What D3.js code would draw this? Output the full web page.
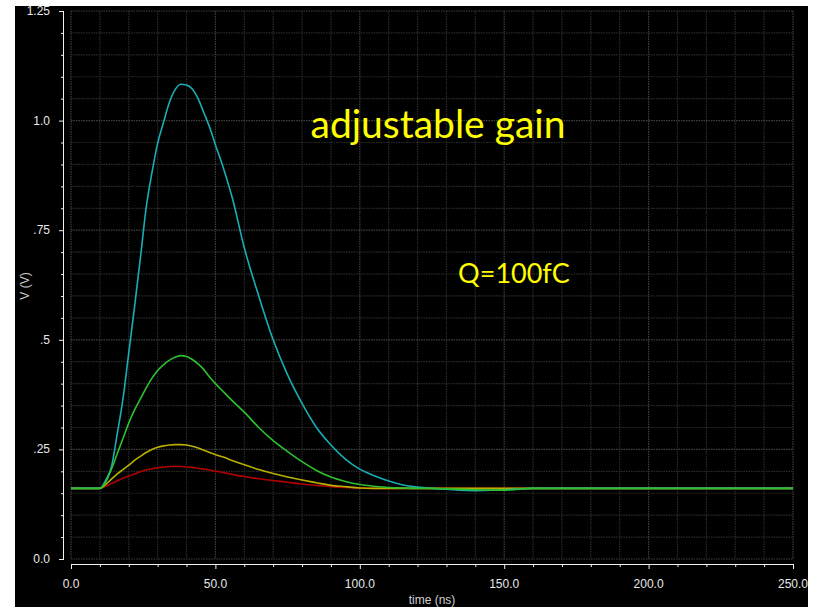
<!DOCTYPE html>
<html>
<head>
<meta charset="utf-8">
<script src="https://cdn.jsdelivr.net/npm/d3@7"></script>
<style>
  body { margin: 0; background: #fff; }
  svg { display: block; }
</style>
</head>
<body>
<svg id="chart" width="821" height="607"></svg>
<script>
// sample times (ns) shared by all traces
const times = [0, 10, 12, 14, 16, 18, 20, 22, 24, 26, 28, 30, 32, 34, 36, 38, 40, 42, 44, 46, 48, 50,
               53, 56, 60, 65, 70, 75, 80, 85, 90, 95, 100, 105, 110, 115, 120, 125, 130, 140, 150, 160, 250];

// output voltage (V) for each gain setting
const vRed    = [.161, .161, .166, .172, .178, .184, .189, .194, .199, .203, .206, .208, .210, .211, .211, .211, .210, .209, .207, .205, .203, .200,
                 .197, .193, .188, .183, .179, .175, .171, .168, .165, .163, .162, .161, .161, .161, .161, .161, .161, .161, .161, .161, .161];
const vYellow = [.161, .161, .170, .182, .194, .204, .214, .225, .234, .243, .250, .255, .258, .260, .261, .261, .260, .257, .253, .248, .243, .238,
                 .232, .224, .215, .204, .195, .187, .180, .174, .168, .165, .162, .161, .161, .161, .161, .161, .161, .161, .161, .161, .161];
const vCyan   = [.161, .161, .180, .210, .285, .365, .470, .575, .685, .800, .880, .948, .995, 1.040, 1.070, 1.083, 1.081, 1.072, 1.050, 1.018, .985, .945,
                 .887, .820, .710, .600, .500, .420, .355, .300, .260, .228, .205, .190, .178, .169, .164, .161, .159, .156, .158, .161, .161];
const vGreen  = [.161, .161, .175, .205, .240, .275, .310, .340, .365, .390, .412, .430, .443, .453, .460, .464, .462, .455, .445, .432, .415, .400,
                 .380, .360, .335, .300, .270, .245, .222, .202, .187, .177, .170, .166, .163, .162, .161, .161, .160, .158, .157, .161, .161];

const traces = [
  {name: "red",    values: vRed,    color: "#b00000"},
  {name: "yellow", values: vYellow, color: "#b8b000"},
  {name: "cyan",   values: vCyan,   color: "#19adb5"},
  {name: "green",  values: vGreen,  color: "#2ec12e"}
];

const xTicks = [0, 50, 100, 150, 200, 250];
const xTickLabels = ["0.0", "50.0", "100.0", "150.0", "200.0", "250.0"];
const yTicks = [0, 0.25, 0.5, 0.75, 1.0, 1.25];
const yTickLabels = ["0.0", ".25", ".5", ".75", "1.0", "1.25"];

const svg = d3.select("#chart");

// black panel
svg.append("rect")
    .attr("x", 15).attr("y", 6)
    .attr("width", 793).attr("height", 601)
    .attr("fill", "#000");

let x = d3.scaleLinear().domain([0, 250]).range([71, 793]);
let y = d3.scaleLinear().domain([0, 1.25]).range([559, 11]);

// ****** grid ******
let grid = svg.append("g").attr("class", "grid");

grid.selectAll("line.vgrid")
    .data(d3.range(0, 251, 10))
    .enter().append("line")
    .attr("x1", d => x(d)).attr("x2", d => x(d))
    .attr("y1", y(1.25)).attr("y2", y(0))
    .attr("stroke", d => d % 50 == 0 ? "#404040" : "#2a2a2a")
    .attr("stroke-width", 1.2)
    .attr("stroke-dasharray", "1.5,1");

grid.selectAll("line.hgrid")
    .data(d3.range(0, 26).map(i => i * 0.05))
    .enter().append("line")
    .attr("x1", x(0)).attr("x2", x(250))
    .attr("y1", d => y(d)).attr("y2", d => y(d))
    .attr("stroke", (d, i) => i % 5 == 0 ? "#404040" : "#2a2a2a")
    .attr("stroke-width", 1.2)
    .attr("stroke-dasharray", "1.5,1");

// ****** axes ******
let axisColor = "#f0f0f0";

let xAxis = d3.axisBottom(x)
    .tickValues(d3.range(0, 251, 10))
    .tickSize(4)
    .tickFormat("");
let gx = svg.append("g")
    .attr("transform", "translate(0,564)")
    .call(xAxis);
gx.select(".domain").attr("stroke", axisColor).attr("d", "M" + x(0) + ",0.5H" + x(250));
gx.selectAll(".tick line").attr("stroke", axisColor)
    .attr("y2", d => d % 50 == 0 ? 5 : 3);

svg.append("g").selectAll("text")
    .data(xTicks)
    .enter().append("text")
    .attr("x", d => x(d))
    .attr("y", 588)
    .attr("text-anchor", "middle")
    .attr("fill", "#e8e8e8")
    .style("font", "12px 'Liberation Sans', sans-serif")
    .text((d, i) => xTickLabels[i]);

let yAxis = d3.axisLeft(y)
    .tickValues(d3.range(0, 26).map(i => i * 0.05))
    .tickSize(3)
    .tickFormat("");
let gy = svg.append("g")
    .attr("transform", "translate(64,0)")
    .call(yAxis);
gy.select(".domain").attr("stroke", axisColor).attr("d", "M-0.5," + y(1.25) + "V" + y(0));
gy.selectAll(".tick line").attr("stroke", axisColor)
    .attr("x2", (d, i) => i % 5 == 0 ? -5 : -3);

svg.append("g").selectAll("text")
    .data(yTicks)
    .enter().append("text")
    .attr("x", 50)
    .attr("y", d => y(d) + 4)
    .attr("text-anchor", "end")
    .attr("fill", "#e8e8e8")
    .style("font", "12px 'Liberation Sans', sans-serif")
    .text((d, i) => yTickLabels[i]);

// axis titles
svg.append("text")
    .attr("x", 432).attr("y", 604)
    .attr("text-anchor", "middle")
    .attr("fill", "#d0d0d0")
    .style("font", "12px 'Liberation Sans', sans-serif")
    .text("time (ns)");

svg.append("text")
    .attr("transform", "translate(29,286) rotate(-90)")
    .attr("text-anchor", "middle")
    .attr("fill", "#d0d0d0")
    .style("font", "12px 'Liberation Sans', sans-serif")
    .text("V (V)");

// ****** traces ******
let line = d3.line()
    .x((d, i) => x(times[i]))
    .y(d => y(d))
    .curve(d3.curveMonotoneX);

svg.append("g").selectAll("path")
    .data(traces)
    .enter().append("path")
    .attr("fill", "none")
    .attr("stroke", d => d.color)
    .attr("stroke-width", 1.6)
    .attr("d", d => line(d.values));

// annotations
svg.append("text")
    .attr("x", 438).attr("y", 138)
    .attr("text-anchor", "middle")
    .attr("fill", "#ffff00")
    .style("font", "39px Lato, sans-serif")
    .text("adjustable gain");

svg.append("text")
    .attr("x", 514).attr("y", 283)
    .attr("text-anchor", "middle")
    .attr("fill", "#ffff00")
    .style("font", "27px Lato, sans-serif")
    .text("Q=100fC");
</script>
</body>
</html>
